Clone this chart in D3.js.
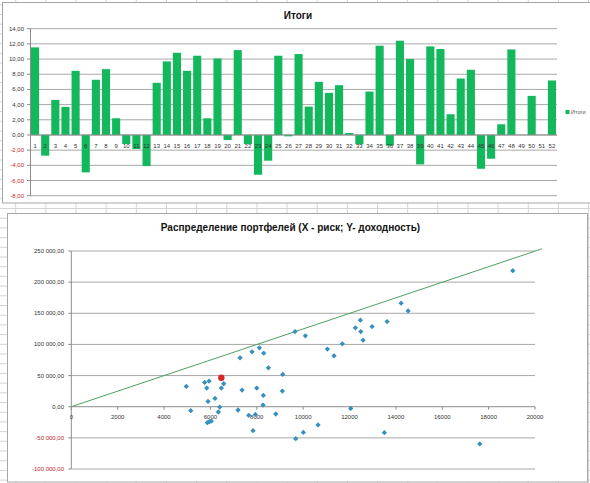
<html>
    <head>
        <script src="https://d3js.org/d3.v7.min.js"></script>
        <style>
            body { margin: 0; background: white; }
            text { font-family: "Liberation Sans", Arial, sans-serif; }
            .sheet { stroke: #d4d4d4; stroke-width: 1px; }
            .frame { fill: white; stroke: #a6a6a6; stroke-width: 1px; }
            .grid { stroke: #a8a8a8; stroke-width: 1px; }
            .axis { stroke: #8c8c8c; stroke-width: 1px; }
            .title { font-weight: bold; font-size: 10px; fill: #111; }
            .tick { font-size: 6px; }
        </style>
    </head>
    <body>
        <svg id="charts" width="590" height="483"></svg>
        <script>
            // top chart: "Итоги" per portfolio
            const categories = ["1","2","3","4","5","6","7","8","9","10","11","12","13","14","15","16","17","18","19","20",
                                "21","22","23","24","25","26","27","28","29","30","31","32","33","34","35","36","37","38","39","40",
                                "41","42","43","44","45","46","47","48","49","50","51","52"];
            const totals = [11.54, -2.73, 4.62, 3.70, 8.45, -4.93, 7.27, 8.67, 2.20, -1.19, -1.85, -4.10, 6.87, 9.69, 10.83,
                            8.45, 10.44, 2.20, 10.08, -0.66, 11.18, -1.19, -5.24, -3.39, 10.44, -0.18, 10.66, 3.74, 7.00, 5.55,
                            6.56, 0.26, -1.23, 5.72, 11.76, -1.41, 12.42, 10.00, -3.87, 11.67, 11.32, 2.73, 7.44, 8.59, -4.45,
                            -3.13, 1.41, 11.27, 0, 5.15, 0, 7.18];
            const barTicks = [-8, -6, -4, -2, 0, 2, 4, 6, 8, 10, 12, 14];

            // bottom chart: risk (X) / return (Y)
            const risk = [4961, 5151, 5751, 5941, 5841, 5897, 5868, 5954, 6040, 6199, 6402, 6342, 6471, 6574, 7192, 7278,
                          7364, 7653, 7796, 7839, 7938, 7998, 8111, 8283, 8270, 8300, 8499, 8818, 9120, 9103, 9681, 9651,
                          10095, 11044, 11333, 11691, 12053, 12252, 12468, 12485, 12584, 12972, 13620, 14224, 14526, 19042,
                          10643, 10009, 13503, 17619];
            const profit = [32500, -6400, 39000, 41100, 29900, 8500, -25600, -24000, -23000, 13300, -500, -8500, 29900, 36900,
                            -5300, 78500, 26700, -13900, 88100, -38500, -12300, 29900, 94500, 18100, 2700, 86000, 62500, -11700,
                            51800, 25100, -51300, 120700, 113800, 92500, 81700, 101000, -2700, 126600, 138900, 120700, 106900,
                            128700, 136700, 166200, 153800, 218400, -29300, -41200, -41700, -59800];
            const chosen = [6471, 46500];
            const lineRisk = [0, 20300];
            const lineProfit = [0, 253500];
            const xTicks = [0, 2000, 4000, 6000, 8000, 10000, 12000, 14000, 16000, 18000, 20000];
            const yTicks = [-100000, -50000, 0, 50000, 100000, 150000, 200000, 250000];

            const ru = d3.formatLocale({decimal: ",", thousands: " ", grouping: [3], currency: ["", ""], minus: "-"});
            const fmt = ru.format(",.2f");

            const svg = d3.select("#charts");

            // spreadsheet behind the charts
            const sheet = svg.append("g");
            sheet.selectAll("line.col").data(d3.range(0, 20)).join("line")
                 .attr("class", "sheet")
                 .attr("x1", d => 15.7 + d * 30.15).attr("x2", d => 15.7 + d * 30.15)
                 .attr("y1", 0).attr("y2", 483);
            sheet.selectAll("line.row").data(d3.range(-22, 30)).join("line")
                 .attr("class", "sheet")
                 .attr("x1", 0).attr("x2", 590)
                 .attr("y1", d => 208.5 + d * 9.7).attr("y2", d => 208.5 + d * 9.7);

            // ---------- top chart ----------
            const barChart = svg.append("g");
            barChart.append("rect").attr("class", "frame")
               .attr("x", 2.5).attr("y", 2.5).attr("width", 600).attr("height", 200.5);
            barChart.append("text").attr("class", "title")
               .attr("x", 298).attr("y", 19).attr("text-anchor", "middle").text("Итоги");

            const bx = d3.scaleBand().domain(categories).range([30, 557]).paddingInner(0.2).paddingOuter(0.1);
            const by = d3.scaleLinear().domain([-8, 14]).range([195.7, 28.7]);

            barChart.selectAll("line.grid").data(barTicks).join("line")
               .attr("class", "grid")
               .attr("x1", 30).attr("x2", 557)
               .attr("y1", d => by(d)).attr("y2", d => by(d));
            barChart.append("line").attr("class", "axis")
               .attr("x1", 30.5).attr("x2", 30.5).attr("y1", by(14)).attr("y2", by(-8));
            barChart.selectAll("line.ytick").data(barTicks).join("line")
               .attr("class", "axis")
               .attr("x1", 27).attr("x2", 30.5)
               .attr("y1", d => by(d)).attr("y2", d => by(d));
            barChart.selectAll("text.ylab").data(barTicks).join("text")
               .attr("class", "tick")
               .attr("x", 24).attr("y", d => by(d) + 2)
               .attr("text-anchor", "end")
               .attr("fill", d => d < 0 ? "#c0262b" : "#333")
               .text(d => fmt(d));

            barChart.selectAll("rect.bar").data(totals).join("rect")
               .attr("fill", "#12b85b")
               .attr("x", (d, i) => bx(categories[i]))
               .attr("width", bx.bandwidth())
               .attr("y", d => by(Math.max(0, d)))
               .attr("height", d => Math.abs(by(d) - by(0)));

            barChart.append("line").attr("class", "axis")
               .attr("x1", 30).attr("x2", 557).attr("y1", by(0)).attr("y2", by(0));
            barChart.selectAll("text.xlab").data(categories).join("text")
               .attr("class", "tick")
               .attr("x", d => bx(d) + bx.bandwidth() / 2).attr("y", by(0) + 13)
               .attr("text-anchor", "middle").attr("fill", "#333")
               .text(d => d);

            barChart.append("rect").attr("x", 565.5).attr("y", 110).attr("width", 4).attr("height", 4).attr("fill", "#12b85b");
            barChart.append("text").attr("x", 571).attr("y", 114).attr("font-size", 5.5).attr("fill", "#555").text("Итоги");

            // ---------- bottom chart ----------
            const scatter = svg.append("g");
            scatter.append("rect").attr("class", "frame")
               .attr("x", 7.5).attr("y", 213.5).attr("width", 580).attr("height", 268.5);
            scatter.append("text").attr("class", "title")
               .attr("x", 290.5).attr("y", 231).attr("text-anchor", "middle")
               .text("Распределение портфелей (X - риск; Y- доходность)");

            const sx = d3.scaleLinear().domain([0, 20000]).range([71.3, 535]);
            const sy = d3.scaleLinear().domain([-100000, 250000]).range([469, 251]);

            scatter.selectAll("line.grid").data(yTicks.filter(d => d != 0)).join("line")
               .attr("class", "grid")
               .attr("x1", sx(0)).attr("x2", sx(20000))
               .attr("y1", d => sy(d)).attr("y2", d => sy(d));
            scatter.append("line").attr("class", "axis")
               .attr("x1", sx(0)).attr("x2", sx(0)).attr("y1", sy(250000)).attr("y2", sy(-100000));
            scatter.selectAll("line.ytick").data(yTicks).join("line")
               .attr("class", "axis")
               .attr("x1", sx(0) - 3).attr("x2", sx(0))
               .attr("y1", d => sy(d)).attr("y2", d => sy(d));
            scatter.selectAll("text.ylab").data(yTicks).join("text")
               .attr("class", "tick")
               .attr("x", 64).attr("y", d => sy(d) + 2)
               .attr("text-anchor", "end")
               .attr("fill", d => d < 0 ? "#c0262b" : "#333")
               .text(d => fmt(d));

            scatter.append("line").attr("class", "axis")
               .attr("x1", sx(0)).attr("x2", sx(20000)).attr("y1", sy(0)).attr("y2", sy(0));
            scatter.selectAll("line.xtick").data(xTicks).join("line")
               .attr("class", "axis")
               .attr("x1", d => sx(d)).attr("x2", d => sx(d))
               .attr("y1", sy(0)).attr("y2", sy(0) + 3);
            scatter.selectAll("text.xlab").data(xTicks).join("text")
               .attr("class", "tick")
               .attr("x", d => sx(d)).attr("y", sy(0) + 12)
               .attr("text-anchor", "middle").attr("fill", "#333")
               .text(d => d);

            const line = d3.line().x(d => sx(d[0])).y(d => sy(d[1]));
            scatter.append("path")
               .attr("d", line(d3.zip(lineRisk, lineProfit)))
               .attr("fill", "none").attr("stroke", "#4f9f60").attr("stroke-width", 1);

            const diamond = d3.symbol(d3.symbolSquare, 14);
            scatter.selectAll("path.pt").data(d3.zip(risk, profit)).join("path")
               .attr("d", diamond)
               .attr("transform", d => "translate(" + sx(d[0]) + "," + sy(d[1]) + ") rotate(45)")
               .attr("fill", "#3590c0");

            scatter.append("circle")
               .attr("cx", sx(chosen[0])).attr("cy", sy(chosen[1])).attr("r", 3.2)
               .attr("fill", "#d9232a");
        </script>
    </body>
</html>
